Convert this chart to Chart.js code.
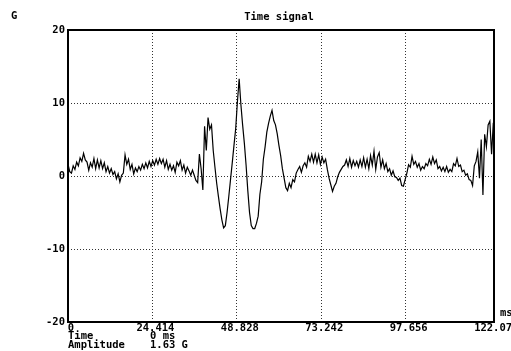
<!DOCTYPE html>
<html>
<head>
<meta charset="utf-8">
<script src="https://cdn.jsdelivr.net/npm/chart.js@4.4.0/dist/chart.umd.min.js"></script>
<style>
  html, body { margin: 0; padding: 0; background: #fff; }
  canvas { display: block; }
</style>
</head>
<body>
<canvas id="signalChart" width="511" height="351"></canvas>
<script>
// Sampled acceleration, one value every 0.5 ms (G)
const sampleStep = 0.5;
const amplitude = [
  1.63, 0.6, 0.4, 1.4, 0.9, 1.9, 1.4, 2.5, 2.0, 3.1,
  2.2, 1.9, 0.8, 1.8, 1.2, 2.4, 1.0, 2.2, 1.1, 2.1,
  1.0, 1.8, 0.6, 1.3, 0.4, 1.0, 0.2, 0.6, -0.4, 0.3,
  -0.8, 0.1, 0.4, 2.9, 1.6, 2.3, 0.9, 1.6, 0.3, 1.1,
  0.6, 1.3, 0.8, 1.6, 1.0, 1.8, 1.1, 2.0, 1.3, 2.1,
  1.5, 2.3, 1.6, 2.4, 1.7, 2.3, 1.2, 2.1, 0.9, 1.6,
  0.8, 1.4, 0.5, 1.9, 1.4, 2.1, 0.8, 1.5, 0.4, 1.2,
  0.7, 0.1, 0.8, 0.1, -0.6, -0.9, 3.0, 1.0, -1.9, 6.8,
  3.5, 8.0, 6.4, 7.0, 3.5, 1.2, -1.0, -2.8, -4.5, -6.0,
  -7.1, -6.8, -5.0, -2.8, -0.5, 1.8, 4.2, 6.5, 10.2, 13.3,
  9.8, 7.0, 4.5, 1.5, -2.0, -5.0, -6.8, -7.2, -7.2, -6.5,
  -5.5, -2.5, -0.8, 2.3, 4.0, 6.0, 7.2, 8.2, 9.0, 7.6,
  7.0, 5.8, 4.2, 2.8, 1.0, -0.3, -1.6, -2.0, -1.0, -1.6,
  -0.5, -0.8, 0.4, 0.9, 1.3, 0.5, 1.4, 1.8, 1.2, 2.7,
  2.0, 3.0, 1.9, 3.0, 1.8, 2.9, 1.6, 2.6, 1.8, 2.3,
  0.9, -0.3, -1.2, -2.1, -1.4, -1.0, -0.1, 0.5, 0.9, 1.3,
  1.5, 2.2, 1.3, 2.4, 1.2, 2.1, 1.4, 2.0, 1.2, 2.2,
  1.3, 2.5, 1.2, 2.3, 1.0, 2.8, 1.5, 3.4, 0.9, 2.6,
  3.2, 1.2, 2.2, 1.0, 1.7, 0.6, 1.0, 0.1, 0.7, -0.1,
  -0.2, -0.6, -0.3, -1.3, -1.4, -0.5, 0.4, 1.55, 1.2, 2.7,
  1.6, 2.0, 1.2, 1.7, 0.8, 1.3, 1.0, 1.7, 1.4, 2.3,
  1.6, 2.6, 1.7, 2.2, 1.0, 1.3, 0.7, 1.2, 0.6, 1.3,
  0.5, 0.9, 0.6, 1.7, 1.4, 2.4, 1.3, 1.5, 0.6, 0.8,
  0.1, 0.3, -0.5, -0.6, -1.3, 1.4, 2.0, 3.3, -0.3, 5.0,
  -2.6, 5.7, 4.0, 7.0, 7.5, 3.0, 7.3
];
const times = amplitude.map((_, i) => i * sampleStep);

const xTicks = [0, 24.414, 48.828, 73.242, 97.656, 122.07];
const xTickLabels = ["0", "24.414", "48.828", "73.242", "97.656", "122.07"];
const yTicks = [-20, -10, 0, 10, 20];

const monoFont = { family: "'DejaVu Sans Mono', monospace", size: 10.5, weight: "bold" };
const fontCss = "bold 10.5px 'DejaVu Sans Mono', monospace";

// frame, title, units and cursor readout
const decorations = {
    id: "decorations",
    afterDraw(chart) {
        const { ctx, chartArea: a } = chart;
        ctx.save();
        ctx.strokeStyle = "#000";
        ctx.lineWidth = 2;
        ctx.strokeRect(a.left, a.top, a.right - a.left, a.bottom - a.top);

        ctx.fillStyle = "#000";
        ctx.font = fontCss;
        ctx.textBaseline = "middle";
        ctx.textAlign = "left";
        ctx.fillText("G", 11, 16);
        ctx.fillText("ms", 500, 313);
        ctx.fillText("Time", 68, 336);
        ctx.fillText(times[0] + " ms", 150, 336);
        ctx.fillText("Amplitude", 68, 345);
        ctx.fillText(amplitude[0].toFixed(2) + " G", 150, 345);
        ctx.textAlign = "center";
        ctx.fillText("Time signal", 279, 17);
        ctx.restore();
    }
};

const ctx = document.getElementById("signalChart").getContext("2d");

new Chart(ctx, {
    type: "line",
    data: {
        datasets: [{
            data: times.map((t, i) => ({ x: t, y: amplitude[i] })),
            borderColor: "#000",
            borderWidth: 1.2,
            pointRadius: 0,
            tension: 0,
            fill: false
        }]
    },
    options: {
        responsive: false,
        animation: false,
        devicePixelRatio: 1,
        layout: { padding: { top: 30, right: 17, left: 0, bottom: 0 } },
        plugins: {
            legend: { display: false },
            tooltip: { enabled: false }
        },
        scales: {
            x: {
                type: "linear",
                min: 0,
                max: 123.2,
                afterBuildTicks: s => { s.ticks = xTicks.map(v => ({ value: v })); },
                afterFit: s => { s.height = 29; s.paddingLeft = 0; s.paddingRight = 0; },
                grid: {
                    drawTicks: false,
                    lineWidth: 1,
                    color: c => (c.tick && (c.tick.value === 0 || c.tick.value === 122.07)) ? "rgba(0,0,0,0)" : "#333"
                },
                border: { display: false, dash: [1, 2] },
                ticks: {
                    autoSkip: false,
                    maxRotation: 0,
                    padding: 0,
                    labelOffset: 3,
                    color: "#000",
                    font: monoFont,
                    callback: (v, i) => xTickLabels[i]
                }
            },
            y: {
                min: -20,
                max: 20,
                afterBuildTicks: s => { s.ticks = yTicks.map(v => ({ value: v })); },
                afterFit: s => { s.width = 68; s.paddingTop = 0; s.paddingBottom = 0; },
                grid: {
                    drawTicks: false,
                    lineWidth: 1,
                    color: c => (c.tick && Math.abs(c.tick.value) === 20) ? "rgba(0,0,0,0)" : "#333"
                },
                border: { display: false, dash: [1, 2] },
                ticks: {
                    padding: 3,
                    color: "#000",
                    font: monoFont,
                    callback: v => String(v)
                }
            }
        }
    },
    plugins: [decorations]
});
</script>
</body>
</html>
